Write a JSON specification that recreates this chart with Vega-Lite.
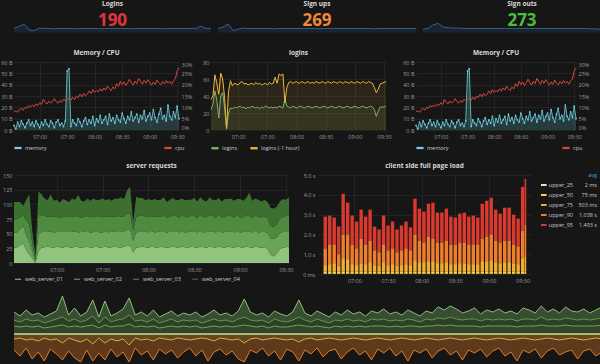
{
"$schema": "https://vega.github.io/schema/vega-lite/v6.json",
"background": "#161616",
"padding": 0,
"config": {
  "view": {"stroke": null},
  "font": "Open Sans",
  "axis": {"labelColor": "#9a9a9a", "labelFontSize": 5.5, "domain": false, "ticks": false, "labelPadding": 2, "gridColor": "#2e2e2e", "gridWidth": 0.6},
  "axisX": {"labelPadding": 4},
  "title": {"color": "#d8d9da", "fontSize": 6.5, "fontWeight": "bold", "offset": 4},
  "legend": {"labelColor": "#c8c8c8", "labelFontSize": 5.5, "title": null, "direction": "horizontal", "symbolType": "M-1,-0.18H1V0.18H-1Z", "symbolSize": 36, "symbolStrokeWidth": 1.2, "columnPadding": 10, "offset": 4, "padding": 0, "labelOffset": 3}
},
"datasets": {
  "spark": [
    {"i":0,"logins":46,"signups":46,"signouts":44},{"i":1,"logins":52,"signups":50,"signouts":46},{"i":2,"logins":58,"signups":58,"signouts":56},{"i":3,"logins":42,"signups":40,"signouts":60},{"i":4,"logins":40,"signups":44,"signouts":50},
    {"i":5,"logins":47,"signups":47,"signouts":48},{"i":6,"logins":46,"signups":46,"signouts":47},{"i":7,"logins":46,"signups":46,"signouts":47},{"i":8,"logins":45,"signups":46,"signouts":46},{"i":9,"logins":46,"signups":46,"signouts":46},
    {"i":10,"logins":46,"signups":46,"signouts":46},{"i":11,"logins":46,"signups":45,"signouts":46},{"i":12,"logins":45,"signups":46,"signouts":46},{"i":13,"logins":46,"signups":46,"signouts":46},{"i":14,"logins":46,"signups":46,"signouts":46},
    {"i":15,"logins":46,"signups":46,"signouts":46},{"i":16,"logins":46,"signups":46,"signouts":46},{"i":17,"logins":45,"signups":46,"signouts":46},{"i":18,"logins":46,"signups":46,"signouts":46},{"i":19,"logins":46,"signups":46,"signouts":46},
    {"i":20,"logins":46,"signups":45,"signouts":46},{"i":21,"logins":46,"signups":46,"signouts":46},{"i":22,"logins":46,"signups":46,"signouts":46},{"i":23,"logins":45,"signups":46,"signouts":46},{"i":24,"logins":46,"signups":46,"signouts":46},
    {"i":25,"logins":46,"signups":46,"signouts":46},{"i":26,"logins":46,"signups":46,"signouts":46},{"i":27,"logins":46,"signups":46,"signouts":46},{"i":28,"logins":46,"signups":46,"signouts":46},{"i":29,"logins":46,"signups":46,"signouts":46},
    {"i":30,"logins":45,"signups":46,"signouts":46},{"i":31,"logins":46,"signups":45,"signouts":46},{"i":32,"logins":46,"signups":46,"signouts":46},{"i":33,"logins":46,"signups":46,"signouts":45},{"i":34,"logins":46,"signups":46,"signouts":45},
    {"i":35,"logins":46,"signups":46,"signouts":44},{"i":36,"logins":46,"signups":46,"signouts":44},{"i":37,"logins":52,"signups":46,"signouts":43},{"i":38,"logins":46,"signups":46,"signouts":43},{"i":39,"logins":46,"signups":46,"signouts":43}
  ],
  "ts": [
    {"t":392,"memory":4,"cpu":8,"logins":24,"logins_1h":36,"s1":26,"s2":26,"s3":22,"s4":30},
    {"t":394,"memory":1,"cpu":8.5,"logins":30,"logins_1h":40,"s1":27,"s2":25,"s3":23,"s4":29},
    {"t":396,"memory":7,"cpu":7.8,"logins":46,"logins_1h":65,"s1":30,"s2":28,"s3":20,"s4":26},
    {"t":398,"memory":3,"cpu":9,"logins":35,"logins_1h":55,"s1":34,"s2":30,"s3":18,"s4":15},
    {"t":400,"memory":8,"cpu":9.5,"logins":14,"logins_1h":42,"s1":22,"s2":26,"s3":25,"s4":35},
    {"t":402,"memory":5,"cpu":8.8,"logins":40,"logins_1h":67,"s1":15,"s2":22,"s3":30,"s4":50},
    {"t":404,"memory":2,"cpu":10,"logins":44,"logins_1h":60,"s1":8,"s2":12,"s3":14,"s4":20},
    {"t":406,"memory":6,"cpu":9.6,"logins":26,"logins_1h":38,"s1":0,"s2":3,"s3":4,"s4":6},
    {"t":408,"memory":9,"cpu":10.8,"logins":1,"logins_1h":2,"s1":20,"s2":30,"s3":35,"s4":37},
    {"t":410,"memory":4,"cpu":10.2,"logins":20,"logins_1h":45,"s1":26,"s2":27,"s3":28,"s4":36},
    {"t":412,"memory":7,"cpu":11,"logins":26,"logins_1h":58,"s1":27,"s2":26,"s3":27,"s4":30},
    {"t":414,"memory":3,"cpu":10.4,"logins":25,"logins_1h":52,"s1":28,"s2":25,"s3":26,"s4":28},
    {"t":416,"memory":8,"cpu":11.5,"logins":27,"logins_1h":55,"s1":27,"s2":27,"s3":25,"s4":38},
    {"t":418,"memory":5,"cpu":10.8,"logins":26,"logins_1h":54,"s1":26,"s2":26,"s3":27,"s4":27},
    {"t":420,"memory":2,"cpu":12,"logins":27,"logins_1h":53,"s1":28,"s2":25,"s3":26,"s4":29},
    {"t":422,"memory":7,"cpu":11.2,"logins":28,"logins_1h":56,"s1":27,"s2":26,"s3":24,"s4":26},
    {"t":424,"memory":4,"cpu":13.5,"logins":26,"logins_1h":57,"s1":26,"s2":27,"s3":25,"s4":31},
    {"t":426,"memory":9,"cpu":12.2,"logins":27,"logins_1h":54,"s1":28,"s2":25,"s3":27,"s4":27},
    {"t":428,"memory":5,"cpu":11.5,"logins":25,"logins_1h":55,"s1":27,"s2":26,"s3":26,"s4":25},
    {"t":430,"memory":3,"cpu":12.8,"logins":27,"logins_1h":53,"s1":26,"s2":27,"s3":25,"s4":32},
    {"t":432,"memory":8,"cpu":11.9,"logins":26,"logins_1h":54,"s1":28,"s2":26,"s3":26,"s4":28},
    {"t":434,"memory":6,"cpu":12.5,"logins":28,"logins_1h":55,"s1":27,"s2":25,"s3":27,"s4":37},
    {"t":436,"memory":2,"cpu":13.8,"logins":27,"logins_1h":53,"s1":26,"s2":27,"s3":24,"s4":29},
    {"t":438,"memory":7,"cpu":12.6,"logins":26,"logins_1h":56,"s1":27,"s2":26,"s3":26,"s4":26},
    {"t":440,"memory":9,"cpu":11.8,"logins":27,"logins_1h":54,"s1":28,"s2":27,"s3":25,"s4":30},
    {"t":442,"memory":4,"cpu":13,"logins":25,"logins_1h":55,"s1":26,"s2":25,"s3":27,"s4":28},
    {"t":444,"memory":6,"cpu":12.2,"logins":27,"logins_1h":53,"s1":27,"s2":26,"s3":26,"s4":31},
    {"t":446,"memory":3,"cpu":13.6,"logins":26,"logins_1h":54,"s1":28,"s2":27,"s3":25,"s4":27},
    {"t":448,"memory":8,"cpu":12.9,"logins":28,"logins_1h":55,"s1":26,"s2":26,"s3":27,"s4":29},
    {"t":450,"memory":52,"cpu":13.2,"logins":27,"logins_1h":53,"s1":27,"s2":25,"s3":26,"s4":32},
    {"t":452,"memory":54,"cpu":14,"logins":26,"logins_1h":56,"s1":28,"s2":27,"s3":24,"s4":28},
    {"t":454,"memory":3,"cpu":13.1,"logins":27,"logins_1h":54,"s1":26,"s2":26,"s3":27,"s4":30},
    {"t":456,"memory":9,"cpu":14.5,"logins":26,"logins_1h":55,"s1":27,"s2":27,"s3":25,"s4":27},
    {"t":458,"memory":6,"cpu":13.4,"logins":27,"logins_1h":62,"s1":28,"s2":25,"s3":26,"s4":31},
    {"t":460,"memory":4,"cpu":15,"logins":26,"logins_1h":55,"s1":27,"s2":26,"s3":27,"s4":29},
    {"t":462,"memory":10,"cpu":14.2,"logins":28,"logins_1h":66,"s1":26,"s2":27,"s3":26,"s4":33},
    {"t":464,"memory":7,"cpu":15.8,"logins":27,"logins_1h":64,"s1":28,"s2":26,"s3":25,"s4":30},
    {"t":466,"memory":3,"cpu":14.6,"logins":26,"logins_1h":66,"s1":29,"s2":27,"s3":28,"s4":40},
    {"t":468,"memory":8,"cpu":16.2,"logins":36,"logins_1h":32,"s1":30,"s2":28,"s3":27,"s4":45},
    {"t":470,"memory":11,"cpu":15.1,"logins":28,"logins_1h":50,"s1":18,"s2":20,"s3":17,"s4":15},
    {"t":472,"memory":5,"cpu":15.9,"logins":27,"logins_1h":56,"s1":26,"s2":26,"s3":27,"s4":34},
    {"t":474,"memory":9,"cpu":17.2,"logins":26,"logins_1h":57,"s1":27,"s2":27,"s3":26,"s4":31},
    {"t":476,"memory":6,"cpu":16.1,"logins":28,"logins_1h":55,"s1":28,"s2":26,"s3":27,"s4":30},
    {"t":478,"memory":12,"cpu":17.8,"logins":27,"logins_1h":56,"s1":27,"s2":27,"s3":25,"s4":28},
    {"t":480,"memory":4,"cpu":16.6,"logins":26,"logins_1h":57,"s1":26,"s2":26,"s3":26,"s4":31},
    {"t":482,"memory":10,"cpu":17.5,"logins":27,"logins_1h":55,"s1":28,"s2":27,"s3":25,"s4":27},
    {"t":484,"memory":7,"cpu":16.8,"logins":28,"logins_1h":56,"s1":27,"s2":25,"s3":27,"s4":30},
    {"t":486,"memory":13,"cpu":18.2,"logins":27,"logins_1h":57,"s1":26,"s2":27,"s3":26,"s4":28},
    {"t":488,"memory":6,"cpu":17.1,"logins":26,"logins_1h":55,"s1":28,"s2":26,"s3":25,"s4":29},
    {"t":490,"memory":9,"cpu":18.6,"logins":27,"logins_1h":56,"s1":27,"s2":27,"s3":27,"s4":31},
    {"t":492,"memory":12,"cpu":17.6,"logins":28,"logins_1h":57,"s1":26,"s2":25,"s3":26,"s4":27},
    {"t":494,"memory":5,"cpu":19.4,"logins":27,"logins_1h":55,"s1":27,"s2":27,"s3":25,"s4":29},
    {"t":496,"memory":14,"cpu":18.2,"logins":26,"logins_1h":56,"s1":28,"s2":26,"s3":27,"s4":30},
    {"t":498,"memory":8,"cpu":17.4,"logins":27,"logins_1h":55,"s1":27,"s2":27,"s3":26,"s4":27},
    {"t":500,"memory":11,"cpu":19,"logins":28,"logins_1h":57,"s1":26,"s2":26,"s3":25,"s4":31},
    {"t":502,"memory":6,"cpu":18.1,"logins":27,"logins_1h":56,"s1":28,"s2":27,"s3":27,"s4":28},
    {"t":504,"memory":13,"cpu":20.5,"logins":26,"logins_1h":55,"s1":27,"s2":25,"s3":26,"s4":29},
    {"t":506,"memory":9,"cpu":19.2,"logins":27,"logins_1h":57,"s1":26,"s2":27,"s3":25,"s4":30},
    {"t":508,"memory":7,"cpu":21.5,"logins":28,"logins_1h":56,"s1":28,"s2":26,"s3":27,"s4":27},
    {"t":510,"memory":15,"cpu":20,"logins":27,"logins_1h":55,"s1":27,"s2":27,"s3":26,"s4":31},
    {"t":512,"memory":10,"cpu":21.2,"logins":26,"logins_1h":57,"s1":26,"s2":26,"s3":25,"s4":28},
    {"t":514,"memory":6,"cpu":19.6,"logins":27,"logins_1h":56,"s1":28,"s2":27,"s3":27,"s4":30},
    {"t":516,"memory":12,"cpu":20.8,"logins":28,"logins_1h":55,"s1":27,"s2":25,"s3":26,"s4":29},
    {"t":518,"memory":9,"cpu":22.4,"logins":27,"logins_1h":57,"s1":26,"s2":27,"s3":25,"s4":27},
    {"t":520,"memory":16,"cpu":20.9,"logins":26,"logins_1h":56,"s1":28,"s2":26,"s3":27,"s4":31},
    {"t":522,"memory":8,"cpu":19.8,"logins":27,"logins_1h":55,"s1":27,"s2":27,"s3":26,"s4":28},
    {"t":524,"memory":11,"cpu":21.6,"logins":28,"logins_1h":57,"s1":26,"s2":26,"s3":25,"s4":30},
    {"t":526,"memory":14,"cpu":20.4,"logins":27,"logins_1h":56,"s1":28,"s2":27,"s3":27,"s4":29},
    {"t":528,"memory":7,"cpu":22.8,"logins":26,"logins_1h":55,"s1":27,"s2":25,"s3":26,"s4":27},
    {"t":530,"memory":13,"cpu":21.4,"logins":27,"logins_1h":57,"s1":26,"s2":27,"s3":25,"s4":31},
    {"t":532,"memory":10,"cpu":20.2,"logins":28,"logins_1h":56,"s1":28,"s2":26,"s3":27,"s4":28},
    {"t":534,"memory":17,"cpu":21.9,"logins":27,"logins_1h":55,"s1":27,"s2":27,"s3":26,"s4":30},
    {"t":536,"memory":8,"cpu":20.6,"logins":26,"logins_1h":57,"s1":26,"s2":26,"s3":25,"s4":29},
    {"t":538,"memory":12,"cpu":22.2,"logins":27,"logins_1h":56,"s1":28,"s2":27,"s3":27,"s4":27},
    {"t":540,"memory":15,"cpu":20.9,"logins":28,"logins_1h":55,"s1":27,"s2":25,"s3":26,"s4":31},
    {"t":542,"memory":9,"cpu":19.8,"logins":27,"logins_1h":57,"s1":26,"s2":27,"s3":25,"s4":28},
    {"t":544,"memory":18,"cpu":21.2,"logins":26,"logins_1h":56,"s1":28,"s2":26,"s3":27,"s4":30},
    {"t":546,"memory":11,"cpu":20.1,"logins":27,"logins_1h":55,"s1":27,"s2":27,"s3":26,"s4":40},
    {"t":548,"memory":7,"cpu":22,"logins":28,"logins_1h":57,"s1":26,"s2":26,"s3":25,"s4":29},
    {"t":550,"memory":14,"cpu":20.7,"logins":27,"logins_1h":56,"s1":28,"s2":27,"s3":27,"s4":28},
    {"t":552,"memory":19,"cpu":19.9,"logins":26,"logins_1h":55,"s1":27,"s2":25,"s3":26,"s4":30},
    {"t":554,"memory":10,"cpu":21.4,"logins":27,"logins_1h":57,"s1":26,"s2":27,"s3":25,"s4":27},
    {"t":556,"memory":13,"cpu":20.3,"logins":28,"logins_1h":56,"s1":27,"s2":26,"s3":26,"s4":29},
    {"t":558,"memory":8,"cpu":21.8,"logins":27,"logins_1h":55,"s1":24,"s2":27,"s3":25,"s4":28},
    {"t":560,"memory":22,"cpu":20.6,"logins":24,"logins_1h":50,"s1":14,"s2":28,"s3":22,"s4":30},
    {"t":562,"memory":12,"cpu":21.5,"logins":16,"logins_1h":44,"s1":11,"s2":30,"s3":20,"s4":32},
    {"t":564,"memory":9,"cpu":20.2,"logins":22,"logins_1h":48,"s1":16,"s2":28,"s3":22,"s4":30},
    {"t":566,"memory":16,"cpu":21.7,"logins":27,"logins_1h":54,"s1":24,"s2":27,"s3":25,"s4":29},
    {"t":568,"memory":11,"cpu":22.5,"logins":27,"logins_1h":55,"s1":26,"s2":27,"s3":26,"s4":30},
    {"t":570,"memory":21,"cpu":26,"logins":27,"logins_1h":56,"s1":27,"s2":26,"s3":27,"s4":28},
    {"t":572,"memory":10,"cpu":27.5,"logins":28,"logins_1h":57,"s1":28,"s2":27,"s3":26,"s4":31}
  ],
  "pl": [
    {"t":394,"upper_25":0.01,"upper_50":0.1,"upper_75":0.34,"upper_90":0.85,"upper_95":1.6},
    {"t":398,"upper_25":0.01,"upper_50":0.1,"upper_75":0.39,"upper_90":1.0,"upper_95":1.45},
    {"t":402,"upper_25":0.01,"upper_50":0.1,"upper_75":0.44,"upper_90":0.95,"upper_95":1.35},
    {"t":406,"upper_25":0.01,"upper_50":0.1,"upper_75":0.29,"upper_90":0.6,"upper_95":1.4},
    {"t":410,"upper_25":0.01,"upper_50":0.1,"upper_75":0.69,"upper_90":1.2,"upper_95":2.05},
    {"t":414,"upper_25":0.01,"upper_50":0.1,"upper_75":0.64,"upper_90":1.25,"upper_95":1.6},
    {"t":418,"upper_25":0.01,"upper_50":0.1,"upper_75":0.39,"upper_90":1.0,"upper_95":1.45},
    {"t":422,"upper_25":0.01,"upper_50":0.1,"upper_75":0.34,"upper_90":0.85,"upper_95":1.35},
    {"t":426,"upper_25":0.01,"upper_50":0.1,"upper_75":0.44,"upper_90":1.25,"upper_95":1.45},
    {"t":430,"upper_25":0.01,"upper_50":0.1,"upper_75":0.39,"upper_90":1.0,"upper_95":1.4},
    {"t":434,"upper_25":0.01,"upper_50":0.1,"upper_75":0.49,"upper_90":1.1,"upper_95":1.55},
    {"t":438,"upper_25":0.01,"upper_50":0.1,"upper_75":0.34,"upper_90":0.75,"upper_95":1.2},
    {"t":442,"upper_25":0.01,"upper_50":0.1,"upper_75":0.29,"upper_90":0.7,"upper_95":1.15},
    {"t":446,"upper_25":0.01,"upper_50":0.1,"upper_75":0.44,"upper_90":0.95,"upper_95":1.45},
    {"t":450,"upper_25":0.01,"upper_50":0.1,"upper_75":0.34,"upper_90":0.75,"upper_95":1.25},
    {"t":454,"upper_25":0.01,"upper_50":0.1,"upper_75":0.39,"upper_90":0.8,"upper_95":1.35},
    {"t":458,"upper_25":0.01,"upper_50":0.1,"upper_75":0.29,"upper_90":0.7,"upper_95":1.15},
    {"t":462,"upper_25":0.01,"upper_50":0.1,"upper_75":0.34,"upper_90":0.75,"upper_95":1.25},
    {"t":466,"upper_25":0.01,"upper_50":0.1,"upper_75":0.39,"upper_90":0.8,"upper_95":1.35},
    {"t":470,"upper_25":0.01,"upper_50":0.1,"upper_75":0.34,"upper_90":0.75,"upper_95":1.15},
    {"t":474,"upper_25":0.01,"upper_50":0.1,"upper_75":0.59,"upper_90":1.3,"upper_95":1.8},
    {"t":478,"upper_25":0.01,"upper_50":0.1,"upper_75":0.49,"upper_90":1.1,"upper_95":1.6},
    {"t":482,"upper_25":0.01,"upper_50":0.1,"upper_75":0.49,"upper_90":1.0,"upper_95":1.55},
    {"t":486,"upper_25":0.01,"upper_50":0.1,"upper_75":0.54,"upper_90":1.25,"upper_95":1.65},
    {"t":490,"upper_25":0.01,"upper_50":0.1,"upper_75":0.54,"upper_90":1.15,"upper_95":1.8},
    {"t":494,"upper_25":0.01,"upper_50":0.1,"upper_75":0.44,"upper_90":1.05,"upper_95":1.5},
    {"t":498,"upper_25":0.01,"upper_50":0.1,"upper_75":0.44,"upper_90":1.05,"upper_95":1.5},
    {"t":502,"upper_25":0.01,"upper_50":0.1,"upper_75":0.49,"upper_90":1.1,"upper_95":1.6},
    {"t":506,"upper_25":0.01,"upper_50":0.1,"upper_75":0.39,"upper_90":1.0,"upper_95":1.4},
    {"t":510,"upper_25":0.01,"upper_50":0.1,"upper_75":0.39,"upper_90":1.0,"upper_95":1.35},
    {"t":514,"upper_25":0.01,"upper_50":0.1,"upper_75":0.44,"upper_90":1.05,"upper_95":1.45},
    {"t":518,"upper_25":0.01,"upper_50":0.1,"upper_75":0.44,"upper_90":1.05,"upper_95":1.5},
    {"t":522,"upper_25":0.01,"upper_50":0.1,"upper_75":0.39,"upper_90":1.0,"upper_95":1.4},
    {"t":526,"upper_25":0.01,"upper_50":0.1,"upper_75":0.39,"upper_90":1.0,"upper_95":1.45},
    {"t":530,"upper_25":0.01,"upper_50":0.1,"upper_75":0.39,"upper_90":1.0,"upper_95":1.35},
    {"t":534,"upper_25":0.01,"upper_50":0.1,"upper_75":0.54,"upper_90":1.15,"upper_95":1.75},
    {"t":538,"upper_25":0.01,"upper_50":0.1,"upper_75":0.54,"upper_90":1.25,"upper_95":1.8},
    {"t":542,"upper_25":0.01,"upper_50":0.1,"upper_75":0.59,"upper_90":1.3,"upper_95":1.85},
    {"t":546,"upper_25":0.01,"upper_50":0.1,"upper_75":0.49,"upper_90":1.1,"upper_95":1.55},
    {"t":550,"upper_25":0.01,"upper_50":0.1,"upper_75":0.44,"upper_90":1.05,"upper_95":1.45},
    {"t":554,"upper_25":0.01,"upper_50":0.1,"upper_75":0.49,"upper_90":1.1,"upper_95":1.65},
    {"t":558,"upper_25":0.01,"upper_50":0.1,"upper_75":0.49,"upper_90":1.1,"upper_95":1.65},
    {"t":562,"upper_25":0.01,"upper_50":0.1,"upper_75":0.44,"upper_90":0.95,"upper_95":1.5},
    {"t":566,"upper_25":0.01,"upper_50":0.1,"upper_75":0.39,"upper_90":0.9,"upper_95":1.4},
    {"t":570,"upper_25":0.01,"upper_50":0.1,"upper_75":0.69,"upper_90":1.4,"upper_95":2.2},
    {"t":572.5,"upper_25":0.01,"upper_50":0.1,"upper_75":0.79,"upper_90":1.6,"upper_95":2.3}
  ],
  "avg": [
    {"s":"upper_25","v":"2 ms"},{"s":"upper_50","v":"75 ms"},{"s":"upper_75","v":"503 ms"},{"s":"upper_90","v":"1.038 s"},{"s":"upper_95","v":"1.493 s"}
  ],
  "net": [
    {"i":0,"g1":8,"g2":6,"g3":8,"o1":-5,"o2":-11},{"i":1,"g1":7,"g2":5,"g3":6,"o1":-4,"o2":-18},{"i":2,"g1":8,"g2":7,"g3":9,"o1":-6,"o2":-8},{"i":3,"g1":7,"g2":6,"g3":6,"o1":-5,"o2":-20},{"i":4,"g1":8,"g2":6,"g3":7,"o1":-7,"o2":-11},
    {"i":5,"g1":6,"g2":5,"g3":6,"o1":-4,"o2":-23},{"i":6,"g1":7,"g2":6,"g3":7,"o1":-6,"o2":-9},{"i":7,"g1":8,"g2":7,"g3":8,"o1":-5,"o2":-15},{"i":8,"g1":9,"g2":8,"g3":21,"o1":-9,"o2":-17},{"i":9,"g1":7,"g2":6,"g3":6,"o1":-4,"o2":-13},
    {"i":10,"g1":8,"g2":7,"g3":11,"o1":-6,"o2":-18},{"i":11,"g1":7,"g2":5,"g3":6,"o1":-8,"o2":-20},{"i":12,"g1":8,"g2":6,"g3":8,"o1":-5,"o2":-11},{"i":13,"g1":9,"g2":9,"g3":16,"o1":-10,"o2":-17},{"i":14,"g1":6,"g2":5,"g3":6,"o1":-4,"o2":-15},
    {"i":15,"g1":9,"g2":8,"g3":16,"o1":-9,"o2":-17},{"i":16,"g1":7,"g2":5,"g3":6,"o1":-5,"o2":-10},{"i":17,"g1":8,"g2":6,"g3":7,"o1":-7,"o2":-16},{"i":18,"g1":8,"g2":7,"g3":10,"o1":-5,"o2":-13},{"i":19,"g1":10,"g2":9,"g3":17,"o1":-11,"o2":-17},
    {"i":20,"g1":7,"g2":6,"g3":6,"o1":-4,"o2":-10},{"i":21,"g1":8,"g2":6,"g3":8,"o1":-6,"o2":-15},{"i":22,"g1":7,"g2":5,"g3":6,"o1":-5,"o2":-12},{"i":23,"g1":8,"g2":7,"g3":9,"o1":-7,"o2":-19},{"i":24,"g1":6,"g2":5,"g3":6,"o1":-4,"o2":-11},
    {"i":25,"g1":7,"g2":6,"g3":7,"o1":-5,"o2":-15},{"i":26,"g1":8,"g2":7,"g3":8,"o1":-6,"o2":-10},{"i":27,"g1":7,"g2":5,"g3":6,"o1":-4,"o2":-20},{"i":28,"g1":8,"g2":6,"g3":7,"o1":-5,"o2":-13},{"i":29,"g1":7,"g2":6,"g3":6,"o1":-6,"o2":-8},
    {"i":30,"g1":8,"g2":6,"g3":8,"o1":-5,"o2":-17},{"i":31,"g1":6,"g2":5,"g3":6,"o1":-4,"o2":-12},{"i":32,"g1":7,"g2":6,"g3":7,"o1":-5,"o2":-22},{"i":33,"g1":8,"g2":7,"g3":9,"o1":-7,"o2":-11},{"i":34,"g1":7,"g2":6,"g3":6,"o1":-4,"o2":-11},
    {"i":35,"g1":8,"g2":6,"g3":7,"o1":-5,"o2":-16},{"i":36,"g1":7,"g2":5,"g3":6,"o1":-6,"o2":-11},{"i":37,"g1":8,"g2":7,"g3":8,"o1":-5,"o2":-20},{"i":38,"g1":9,"g2":8,"g3":18,"o1":-9,"o2":-19},{"i":39,"g1":8,"g2":6,"g3":8,"o1":-5,"o2":-11},
    {"i":40,"g1":7,"g2":6,"g3":6,"o1":-4,"o2":-15},{"i":41,"g1":8,"g2":6,"g3":7,"o1":-6,"o2":-8},{"i":42,"g1":6,"g2":5,"g3":6,"o1":-5,"o2":-17},{"i":43,"g1":8,"g2":7,"g3":8,"o1":-4,"o2":-13},{"i":44,"g1":7,"g2":6,"g3":7,"o1":-5,"o2":-21},
    {"i":45,"g1":7,"g2":5,"g3":6,"o1":-6,"o2":-9},{"i":46,"g1":8,"g2":6,"g3":8,"o1":-5,"o2":-13},{"i":47,"g1":9,"g2":8,"g3":17,"o1":-8,"o2":-19},{"i":48,"g1":8,"g2":6,"g3":7,"o1":-5,"o2":-11},{"i":49,"g1":7,"g2":5,"g3":6,"o1":-4,"o2":-16},
    {"i":50,"g1":8,"g2":7,"g3":8,"o1":-6,"o2":-8},{"i":51,"g1":7,"g2":6,"g3":7,"o1":-5,"o2":-18},{"i":52,"g1":6,"g2":5,"g3":6,"o1":-4,"o2":-13},{"i":53,"g1":8,"g2":6,"g3":8,"o1":-5,"o2":-10},{"i":54,"g1":7,"g2":6,"g3":6,"o1":-6,"o2":-19},
    {"i":55,"g1":8,"g2":7,"g3":9,"o1":-5,"o2":-13},{"i":56,"g1":7,"g2":6,"g3":7,"o1":-4,"o2":-10},{"i":57,"g1":8,"g2":6,"g3":8,"o1":-5,"o2":-16},{"i":58,"g1":7,"g2":5,"g3":6,"o1":-6,"o2":-11},{"i":59,"g1":8,"g2":7,"g3":8,"o1":-5,"o2":-21},
    {"i":60,"g1":8,"g2":6,"g3":7,"o1":-4,"o2":-11},{"i":61,"g1":8,"g2":7,"g3":10,"o1":-5,"o2":-14},{"i":62,"g1":7,"g2":6,"g3":7,"o1":-6,"o2":-8},{"i":63,"g1":8,"g2":6,"g3":8,"o1":-5,"o2":-17},{"i":64,"g1":7,"g2":6,"g3":6,"o1":-4,"o2":-13},
    {"i":65,"g1":8,"g2":7,"g3":9,"o1":-5,"o2":-22},{"i":66,"g1":8,"g2":6,"g3":7,"o1":-6,"o2":-10},{"i":67,"g1":7,"g2":5,"g3":6,"o1":-5,"o2":-14},{"i":68,"g1":8,"g2":7,"g3":8,"o1":-4,"o2":-11},{"i":69,"g1":8,"g2":6,"g3":7,"o1":-5,"o2":-19},
    {"i":70,"g1":9,"g2":7,"g3":11,"o1":-6,"o2":-11},{"i":71,"g1":8,"g2":7,"g3":9,"o1":-5,"o2":-9},{"i":72,"g1":9,"g2":8,"g3":11,"o1":-4,"o2":-17},{"i":73,"g1":8,"g2":7,"g3":10,"o1":-5,"o2":-12},{"i":74,"g1":8,"g2":6,"g3":7,"o1":-6,"o2":-20},
    {"i":75,"g1":8,"g2":7,"g3":8,"o1":-5,"o2":-11},{"i":76,"g1":8,"g2":7,"g3":11,"o1":-4,"o2":-15},{"i":77,"g1":7,"g2":6,"g3":7,"o1":-5,"o2":-10},{"i":78,"g1":8,"g2":7,"g3":9,"o1":-6,"o2":-17},{"i":79,"g1":8,"g2":6,"g3":8,"o1":-5,"o2":-12},
    {"i":80,"g1":8,"g2":7,"g3":10,"o1":-4,"o2":-10},{"i":81,"g1":8,"g2":6,"g3":7,"o1":-5,"o2":-17},{"i":82,"g1":8,"g2":7,"g3":8,"o1":-6,"o2":-12},{"i":83,"g1":7,"g2":6,"g3":7,"o1":-5,"o2":-22},{"i":84,"g1":8,"g2":7,"g3":11,"o1":-4,"o2":-12},
    {"i":85,"g1":8,"g2":7,"g3":9,"o1":-5,"o2":-14},{"i":86,"g1":8,"g2":6,"g3":7,"o1":-6,"o2":-9},{"i":87,"g1":9,"g2":8,"g3":11,"o1":-5,"o2":-19},{"i":88,"g1":8,"g2":6,"g3":8,"o1":-4,"o2":-13},{"i":89,"g1":8,"g2":7,"g3":10,"o1":-5,"o2":-9},
    {"i":90,"g1":8,"g2":6,"g3":7,"o1":-6,"o2":-15},{"i":91,"g1":9,"g2":7,"g3":11,"o1":-5,"o2":-13},{"i":92,"g1":8,"g2":7,"g3":8,"o1":-4,"o2":-12},{"i":93,"g1":8,"g2":6,"g3":8,"o1":-5,"o2":-20},{"i":94,"g1":8,"g2":7,"g3":10,"o1":-6,"o2":-11},
    {"i":95,"g1":8,"g2":6,"g3":7,"o1":-5,"o2":-10},{"i":96,"g1":8,"g2":7,"g3":9,"o1":-4,"o2":-18},{"i":97,"g1":9,"g2":7,"g3":11,"o1":-5,"o2":-13},{"i":98,"g1":9,"g2":8,"g3":14,"o1":-6,"o2":-10},{"i":99,"g1":9,"g2":8,"g3":15,"o1":-5,"o2":-15}
  ]
},
"resolve": {"scale": {"color": "independent"}, "legend": {"color": "independent"}},
"spacing": 10,
"vconcat": [
  {
    "spacing": 4,
    "resolve": {"scale": {"color": "independent"}, "legend": {"color": "independent"}},
    "vconcat": [
      {
        "spacing": 3,
        "resolve": {"scale": {"color": "independent"}, "legend": {"color": "independent"}},
        "hconcat": [
          {
            "width": 197, "height": 36,
            "title": {"text": "Logins", "offset": 2},
            "data": {"name": "spark"},
            "layer": [
              {"mark": {"type": "area", "color": "#1c2b39", "line": {"color": "#34618c", "strokeWidth": 1}},
               "encoding": {"x": {"field": "i", "type": "quantitative", "scale": {"domain": [0, 39], "nice": false}, "axis": null},
                            "y": {"field": "logins", "type": "quantitative", "scale": {"domain": [0, 100]}, "axis": null},
                            "y2": {"datum": 35}}},
              {"data": {"values": [{"v": 190}]},
               "mark": {"type": "text", "fontSize": 17, "fontWeight": "bold", "color": "#e0353f"},
               "encoding": {"x": {"datum": 19.5, "type": "quantitative"}, "y": {"datum": 67, "type": "quantitative"}, "text": {"field": "v"}}}
            ]
          },
          {
            "width": 198, "height": 36,
            "title": {"text": "Sign ups", "offset": 2},
            "data": {"name": "spark"},
            "layer": [
              {"mark": {"type": "area", "color": "#1c2b39", "line": {"color": "#34618c", "strokeWidth": 1}},
               "encoding": {"x": {"field": "i", "type": "quantitative", "scale": {"domain": [0, 39], "nice": false}, "axis": null},
                            "y": {"field": "signups", "type": "quantitative", "scale": {"domain": [0, 100]}, "axis": null},
                            "y2": {"datum": 35}}},
              {"data": {"values": [{"v": 269}]},
               "mark": {"type": "text", "fontSize": 17, "fontWeight": "bold", "color": "#f0883a"},
               "encoding": {"x": {"datum": 19.5, "type": "quantitative"}, "y": {"datum": 67, "type": "quantitative"}, "text": {"field": "v"}}}
            ]
          },
          {
            "width": 198, "height": 36,
            "title": {"text": "Sign outs", "offset": 2},
            "data": {"name": "spark"},
            "layer": [
              {"mark": {"type": "area", "color": "#1c2b39", "line": {"color": "#34618c", "strokeWidth": 1}},
               "encoding": {"x": {"field": "i", "type": "quantitative", "scale": {"domain": [0, 39], "nice": false}, "axis": null},
                            "y": {"field": "signouts", "type": "quantitative", "scale": {"domain": [0, 100]}, "axis": null},
                            "y2": {"datum": 35}}},
              {"data": {"values": [{"v": 273}]},
               "mark": {"type": "text", "fontSize": 17, "fontWeight": "bold", "color": "#4dbd3c"},
               "encoding": {"x": {"datum": 19.5, "type": "quantitative"}, "y": {"datum": 67, "type": "quantitative"}, "text": {"field": "v"}}}
            ]
          }
        ]
      },
      {
        "spacing": 10,
        "resolve": {"scale": {"color": "independent"}, "legend": {"color": "independent"}},
        "hconcat": [
          {
            "width": 165, "height": 68,
            "title": "Memory / CPU",
            "data": {"name": "ts"},
            "layer": [
              {"layer": [
                {"mark": {"type": "area", "fillOpacity": 0.2},
                 "encoding": {
                   "x": {"field": "t", "type": "quantitative", "scale": {"domain": [392, 572], "nice": false, "zero": false}, "axis": {"values": [420, 450, 480, 510, 540, 570], "labelExpr": "'0' + floor(datum.value / 60) + ':' + (datum.value % 60 == 0 ? '00' : '30')", "title": null, "grid": true, "labelFlush": false}},
                   "y": {"field": "memory", "type": "quantitative", "stack": null, "scale": {"domain": [0, 60], "nice": false}, "axis": {"values": [0, 10, 20, 30, 40, 50, 60], "labelExpr": "datum.value + ' B'", "title": null, "grid": true}},
                   "color": {"datum": "memory", "scale": {"domain": ["memory"], "range": ["#6ED0E0"]}, "legend": {"orient": "bottom"}}}},
                {"mark": {"type": "line", "strokeWidth": 0.8, "point": {"filled": true, "size": 3}},
                 "encoding": {
                   "x": {"field": "t", "type": "quantitative", "scale": {"domain": [392, 572], "nice": false, "zero": false}, "axis": {"values": [420, 450, 480, 510, 540, 570], "labelExpr": "'0' + floor(datum.value / 60) + ':' + (datum.value % 60 == 0 ? '00' : '30')", "title": null, "grid": true, "labelFlush": false}},
                   "y": {"field": "memory", "type": "quantitative", "scale": {"domain": [0, 60], "nice": false}, "axis": {"values": [0, 10, 20, 30, 40, 50, 60], "labelExpr": "datum.value + ' B'", "title": null, "grid": true}},
                   "color": {"datum": "memory", "scale": {"domain": ["memory"], "range": ["#6ED0E0"]}, "legend": {"orient": "bottom"}}}}
              ]},
              {"mark": {"type": "line", "strokeWidth": 1},
               "encoding": {
                 "x": {"field": "t", "type": "quantitative", "scale": {"domain": [392, 572], "nice": false, "zero": false}, "axis": {"values": [420, 450, 480, 510, 540, 570], "labelExpr": "'0' + floor(datum.value / 60) + ':' + (datum.value % 60 == 0 ? '00' : '30')", "title": null, "grid": true, "labelFlush": false}},
                 "y": {"field": "cpu", "type": "quantitative", "scale": {"domain": [0, 30], "nice": false}, "axis": {"orient": "right", "values": [0, 5, 10, 15, 20, 25, 30], "labelExpr": "datum.value + '%'", "title": null, "grid": false, "labelFlush": true}},
                 "color": {"datum": "cpu", "scale": {"domain": ["cpu"], "range": ["#d44a3a"]}, "legend": {"orient": "none", "legendX": 150, "legendY": 82}}}}
            ],
            "resolve": {"scale": {"y": "independent", "color": "independent"}, "legend": {"color": "independent"}}
          },
          {
            "width": 175, "height": 68,
            "title": "logins",
            "data": {"name": "ts"},
            "transform": [{"fold": ["logins", "logins_1h"], "as": ["series", "value"]}],
            "mark": {"type": "area", "fillOpacity": 0.1, "line": {"strokeWidth": 1}},
            "encoding": {
              "x": {"field": "t", "type": "quantitative", "scale": {"domain": [392, 572], "nice": false, "zero": false}, "axis": {"values": [420, 450, 480, 510, 540, 570], "labelExpr": "'0' + floor(datum.value / 60) + ':' + (datum.value % 60 == 0 ? '00' : '30')", "title": null, "grid": true, "labelFlush": false}},
              "y": {"field": "value", "type": "quantitative", "stack": null, "scale": {"domain": [0, 80], "nice": false}, "axis": {"values": [0, 20, 40, 60, 80], "title": null, "grid": true}},
              "color": {"field": "series", "type": "nominal", "scale": {"domain": ["logins", "logins_1h"], "range": ["#7EB26D", "#EAB839"]}, "legend": {"orient": "bottom", "labelExpr": "datum.label == 'logins_1h' ? 'logins (-1 hour)' : datum.label"}}
            }
          },
          {
            "width": 160, "height": 68,
            "title": "Memory / CPU",
            "data": {"name": "ts"},
            "layer": [
              {"layer": [
                {"mark": {"type": "area", "fillOpacity": 0.2},
                 "encoding": {
                   "x": {"field": "t", "type": "quantitative", "scale": {"domain": [392, 572], "nice": false, "zero": false}, "axis": {"values": [420, 450, 480, 510, 540, 570], "labelExpr": "'0' + floor(datum.value / 60) + ':' + (datum.value % 60 == 0 ? '00' : '30')", "title": null, "grid": true, "labelFlush": false}},
                   "y": {"field": "memory", "type": "quantitative", "stack": null, "scale": {"domain": [0, 60], "nice": false}, "axis": {"values": [0, 10, 20, 30, 40, 50, 60], "labelExpr": "datum.value + ' B'", "title": null, "grid": true}},
                   "color": {"datum": "memory", "scale": {"domain": ["memory"], "range": ["#6ED0E0"]}, "legend": {"orient": "bottom"}}}},
                {"mark": {"type": "line", "strokeWidth": 0.8, "point": {"filled": true, "size": 3}},
                 "encoding": {
                   "x": {"field": "t", "type": "quantitative", "scale": {"domain": [392, 572], "nice": false, "zero": false}, "axis": {"values": [420, 450, 480, 510, 540, 570], "labelExpr": "'0' + floor(datum.value / 60) + ':' + (datum.value % 60 == 0 ? '00' : '30')", "title": null, "grid": true, "labelFlush": false}},
                   "y": {"field": "memory", "type": "quantitative", "scale": {"domain": [0, 60], "nice": false}, "axis": {"values": [0, 10, 20, 30, 40, 50, 60], "labelExpr": "datum.value + ' B'", "title": null, "grid": true}},
                   "color": {"datum": "memory", "scale": {"domain": ["memory"], "range": ["#6ED0E0"]}, "legend": {"orient": "bottom"}}}}
              ]},
              {"mark": {"type": "line", "strokeWidth": 1},
               "encoding": {
                 "x": {"field": "t", "type": "quantitative", "scale": {"domain": [392, 572], "nice": false, "zero": false}, "axis": {"values": [420, 450, 480, 510, 540, 570], "labelExpr": "'0' + floor(datum.value / 60) + ':' + (datum.value % 60 == 0 ? '00' : '30')", "title": null, "grid": true, "labelFlush": false}},
                 "y": {"field": "cpu", "type": "quantitative", "scale": {"domain": [0, 30], "nice": false}, "axis": {"orient": "right", "values": [0, 5, 10, 15, 20, 25, 30], "labelExpr": "datum.value + '%'", "title": null, "grid": false, "labelFlush": true}},
                 "color": {"datum": "cpu", "scale": {"domain": ["cpu"], "range": ["#d44a3a"]}, "legend": {"orient": "none", "legendX": 146, "legendY": 82}}}}
            ],
            "resolve": {"scale": {"y": "independent", "color": "independent"}, "legend": {"color": "independent"}}
          }
        ]
      }
    ]
  },
  {
    "spacing": 3,
    "resolve": {"scale": {"color": "independent"}, "legend": {"color": "independent"}},
    "vconcat": [
      {
        "spacing": 9,
        "resolve": {"scale": {"color": "independent"}, "legend": {"color": "independent"}},
        "hconcat": [
          {
            "width": 275, "height": 88,
            "title": "server requests",
            "data": {"name": "ts"},
            "transform": [{"fold": ["s1", "s2", "s3", "s4"], "as": ["server", "value"]}],
            "mark": {"type": "area"},
            "encoding": {
              "x": {"field": "t", "type": "quantitative", "scale": {"domain": [392, 572], "nice": false, "zero": false}, "axis": {"values": [420, 450, 480, 510, 540, 570], "labelExpr": "'0' + floor(datum.value / 60) + ':' + (datum.value % 60 == 0 ? '00' : '30')", "title": null, "grid": true, "labelFlush": false}},
              "y": {"field": "value", "type": "quantitative", "stack": "zero", "scale": {"domain": [0, 150], "nice": false}, "axis": {"values": [0, 25, 50, 75, 100, 125, 150], "title": null, "grid": true}},
              "color": {"field": "server", "type": "nominal", "scale": {"domain": ["s1", "s2", "s3", "s4"], "range": ["#92c47f", "#6aa459", "#4f8a41", "#3b7031"]}, "legend": {"orient": "bottom", "offset": 2, "labelExpr": "'web_server_0' + slice(datum.label, 1)"}},
              "order": {"field": "server", "sort": "ascending"}
            }
          },
          {
            "width": 213, "height": 99,
            "title": "client side full page load",
            "data": {"name": "pl"},
            "transform": [{"fold": ["upper_25", "upper_50", "upper_75", "upper_90", "upper_95"], "as": ["series", "value"]}],
            "layer": [
              {"transform": [{"filter": "datum.t < 572"}],
               "mark": {"type": "bar", "size": 3.4, "clip": true},
               "encoding": {
                 "x": {"field": "t", "type": "quantitative", "scale": {"domain": [392, 573], "nice": false, "zero": false}, "axis": {"values": [420, 450, 480, 510, 540, 570], "labelExpr": "'0' + floor(datum.value / 60) + ':' + (datum.value % 60 == 0 ? '00' : '30')", "title": null, "grid": true, "labelFlush": false}},
                 "y": {"field": "value", "type": "quantitative", "stack": "zero", "scale": {"domain": [0, 5], "nice": false}, "axis": {"values": [0, 1, 2, 3, 4, 5], "labelExpr": "datum.value == 0 ? '0 ms' : format(datum.value, '.1f') + ' s'", "title": null, "grid": true, "labelPadding": 3}},
                 "color": {"field": "series", "type": "nominal", "scale": {"domain": ["upper_25", "upper_50", "upper_75", "upper_90", "upper_95"], "range": ["#fbe3a2", "#f7cf4c", "#f2ae31", "#ee7d2c", "#d9392e"]}, "legend": null},
                 "order": {"field": "series", "sort": "ascending"}}},
              {"transform": [{"filter": "datum.t > 572"}],
               "mark": {"type": "bar", "size": 1.6, "clip": true},
               "encoding": {
                 "x": {"field": "t", "type": "quantitative", "scale": {"domain": [392, 573], "nice": false, "zero": false}, "axis": {"values": [420, 450, 480, 510, 540, 570], "labelExpr": "'0' + floor(datum.value / 60) + ':' + (datum.value % 60 == 0 ? '00' : '30')", "title": null, "grid": true, "labelFlush": false}},
                 "y": {"field": "value", "type": "quantitative", "stack": "zero", "scale": {"domain": [0, 5], "nice": false}, "axis": {"values": [0, 1, 2, 3, 4, 5], "labelExpr": "datum.value == 0 ? '0 ms' : format(datum.value, '.1f') + ' s'", "title": null, "grid": true, "labelPadding": 3}},
                 "color": {"field": "series", "type": "nominal", "scale": {"domain": ["upper_25", "upper_50", "upper_75", "upper_90", "upper_95"], "range": ["#fbe3a2", "#f7cf4c", "#f2ae31", "#ee7d2c", "#d9392e"]}, "legend": null},
                 "order": {"field": "series", "sort": "ascending"}}}
            ]
          },
          {
            "width": 56, "height": 50,
            "title": {"text": " "},
            "data": {"name": "avg"},
            "encoding": {"y": {"field": "s", "type": "nominal", "scale": {"type": "point", "domain": ["avg", "upper_25", "upper_50", "upper_75", "upper_90", "upper_95"], "padding": 0}, "axis": null}},
            "layer": [
              {"mark": {"type": "rule", "strokeWidth": 2},
               "encoding": {"x": {"datum": 0, "type": "quantitative", "scale": {"domain": [0, 1]}, "axis": null}, "x2": {"datum": 0.1},
                            "color": {"field": "s", "type": "nominal", "scale": {"domain": ["upper_25", "upper_50", "upper_75", "upper_90", "upper_95"], "range": ["#fbe3a2", "#f7cf4c", "#f2ae31", "#ee7d2c", "#d9392e"]}, "legend": null}}},
              {"mark": {"type": "text", "align": "left", "fontSize": 5.5, "color": "#c8c8c8"},
               "encoding": {"x": {"datum": 0.14, "type": "quantitative"}, "text": {"field": "s"}}},
              {"mark": {"type": "text", "align": "right", "fontSize": 5.5, "color": "#c8c8c8"},
               "encoding": {"x": {"datum": 1, "type": "quantitative"}, "text": {"field": "v"}}},
              {"data": {"values": [{"s": "avg"}]},
               "mark": {"type": "text", "align": "right", "fontSize": 5.5, "color": "#33a2e5", "text": "avg"},
               "encoding": {"x": {"datum": 1, "type": "quantitative"}}}
            ]
          }
        ]
      },
      {
        "width": 600, "height": 75,
        "data": {"name": "net"},
        "layer": [
          {"transform": [{"fold": ["g1", "g2", "g3"], "as": ["k", "v"]}],
           "mark": {"type": "area", "fillOpacity": 0.32, "line": {"strokeWidth": 1}},
           "encoding": {
             "x": {"field": "i", "type": "quantitative", "scale": {"domain": [0, 99], "nice": false}, "axis": null},
             "y": {"field": "v", "type": "quantitative", "stack": "zero", "scale": {"domain": [-28, 47], "nice": false}, "axis": null},
             "color": {"field": "k", "type": "nominal", "scale": {"domain": ["g1", "g2", "g3", "o1", "o2"], "range": ["#6fa85a", "#5f9a4c", "#86c46f", "#e8a83a", "#e57a25"]}, "legend": null},
             "order": {"field": "k", "sort": "ascending"}}},
          {"transform": [{"fold": ["o1", "o2"], "as": ["k", "v"]}],
           "mark": {"type": "area", "fillOpacity": 0.35, "line": {"strokeWidth": 1}},
           "encoding": {
             "x": {"field": "i", "type": "quantitative", "scale": {"domain": [0, 99], "nice": false}, "axis": null},
             "y": {"field": "v", "type": "quantitative", "stack": "zero", "scale": {"domain": [-28, 47], "nice": false}, "axis": null},
             "color": {"field": "k", "type": "nominal", "scale": {"domain": ["g1", "g2", "g3", "o1", "o2"], "range": ["#6fa85a", "#5f9a4c", "#86c46f", "#e8a83a", "#e57a25"]}, "legend": null},
             "order": {"field": "k", "sort": "ascending"}}},
          {"data": {"values": [{}]},
           "mark": {"type": "rule", "color": "#d4d88e", "strokeWidth": 1.5},
           "encoding": {"y": {"datum": 0, "type": "quantitative"}}}
        ]
      }
    ]
  }
]
}
